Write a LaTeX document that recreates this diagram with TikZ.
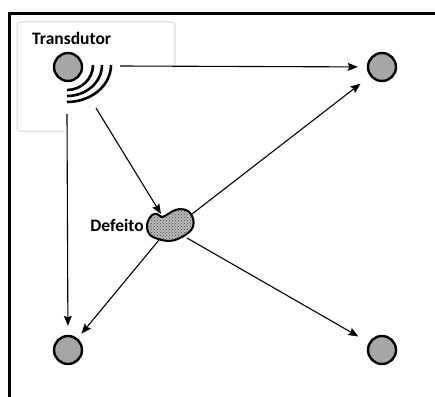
\documentclass[tikz,border=0pt]{standalone}
\usepackage{fontspec}
\setmainfont{Carlito}
\usetikzlibrary{arrows.meta,patterns}
\definecolor{sensorgray}{HTML}{A6A6A6}
\definecolor{boxgray}{HTML}{D9D9D9}
\definecolor{blobgray}{HTML}{B8B8B8}
\begin{document}
\begin{tikzpicture}[x=1pt,y=-1pt,
  sensor/.style={circle,draw=black,line width=2.4pt,fill=sensorgray,minimum size=28pt,inner sep=0pt},
  arr/.style={line width=1.1pt,-{Stealth[length=10pt,width=8pt,inset=1.5pt]}},
  lbl/.style={font=\fontsize{17.5}{20}\selectfont\bfseries,inner sep=0pt},
  wave/.style={line width=2.6pt},
  blobpath/.style={smooth cycle,tension=0.6},
  ]
\useasboundingbox (0,0) rectangle (435,396);
\clip (0,0) rectangle (435,396);
% outer frame
\draw[line width=3pt] (9,14) rectangle (450,410);
% transducer box (partly hidden)
\draw[boxgray,line width=1pt,rounded corners=3pt] (65,131) -- (17,131) -- (17,22) -- (175,22) -- (175,65);
\node[lbl,anchor=base west] (tlabel) at (32,45) {Transdutor};
% sensors
\node[sensor] (t) at (68,67) {};
\node[sensor] (tr) at (382,67) {};
\node[sensor] (bl) at (68,350) {};
\node[sensor] (br) at (382,350) {};
% waves
\draw[wave] (93,65) arc[start angle=0,end angle=90,x radius=26,y radius=25];
\draw[wave] (102,65) arc[start angle=0,end angle=90,x radius=35,y radius=31];
\draw[wave] (111,65) arc[start angle=0,end angle=90,x radius=44,y radius=37];
% defect
\def\blobpts{(148,221) (152,215) (157,214) (162,217) (168,214) (173,211) (180,209) (188,211) (193,218) (193,227) (188,233) (180,238) (170,241) (158,239) (150,235) (147,228)}
\path[fill=blobgray] plot[blobpath] coordinates {\blobpts};
\path[pattern=crosshatch dots,pattern color=gray!60!black] plot[blobpath] coordinates {\blobpts};
\draw[line width=2pt] plot[blobpath] coordinates {\blobpts};
\node[lbl,anchor=base east] (dlabel) at (144,231) {Defeito};
% connector end points
\coordinate (tH) at (120,66);
\coordinate (tD) at (96,108);
\coordinate (tV) at (67,114);
\coordinate (dIn) at (161,214);
\coordinate (dNE) at (192,214);
\coordinate (dSW) at (159,240);
\coordinate (dSE) at (187,238);
% connectors
\draw[arr,shorten >=9pt] (tH) -- (tr);
\draw[arr] (tD) -- (dIn);
\draw[arr,shorten >=9pt] (tV) -- (bl);
\draw[arr,shorten >=12pt] (dNE) -- (tr);
\draw[arr,shorten >=6pt] (dSW) -- (bl);
\draw[arr,shorten >=12pt] (dSE) -- (br);
\end{tikzpicture}
\end{document}
